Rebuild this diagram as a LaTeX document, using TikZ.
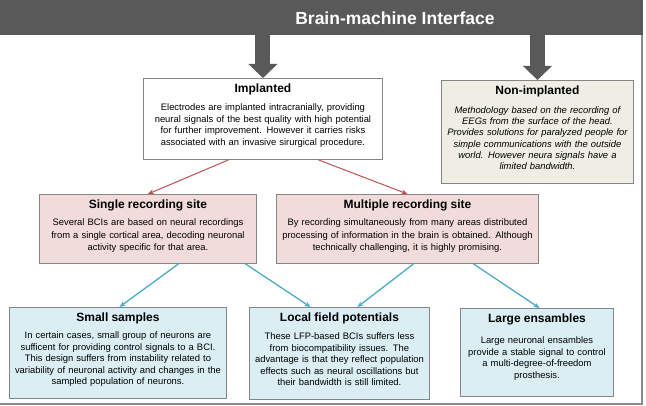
\documentclass[tikz,border=0pt]{standalone}
\usepackage{fontspec}
\setmainfont{Liberation Sans}
\usetikzlibrary{positioning}
\usetikzlibrary{arrows.meta}

\definecolor{barGray}{HTML}{595959}
\definecolor{boxGray}{HTML}{858585}
\definecolor{frameGray}{HTML}{8C8C8C}
\definecolor{pinkFill}{HTML}{F2DCDB}
\definecolor{blueFill}{HTML}{DBEEF4}
\definecolor{tanFill}{HTML}{EEEEE4}
\definecolor{redLine}{HTML}{C0504D}
\definecolor{blueLine}{HTML}{4BACC6}

\tikzset{
  box/.style={draw=boxGray, line width=0.9pt, anchor=north west, inner sep=0pt},
  boxtext/.style={anchor=base, align=center, inner sep=0pt, font=\fontsize{9.4}{11.5}\selectfont},
  blockarrow/.style={draw=barGray, line width=15pt, -{Triangle[width=29pt, length=14pt, line width=0pt]}},
  redarrow/.style={draw=redLine, line width=1pt, -{Stealth[length=6pt, width=5pt]}},
  bluearrow/.style={draw=blueLine, line width=1.3pt, -{Stealth[length=6pt, width=5pt]}}
}
\newcommand{\boxtitle}[1]{{\fontsize{12}{14}\selectfont\upshape\bfseries #1}}

\begin{document}
\begin{tikzpicture}[x=1pt, y=-1pt]
\useasboundingbox (0,0) rectangle (646,406);

%title bar
\node[anchor=north west, fill=barGray, inner sep=0pt, minimum width=643pt, minimum height=35pt] (bar) at (0,0) {};
\node[text=white, font=\fontsize{17.5}{20}\selectfont\bfseries] (title) at (395,18) {Brain-machine Interface};

%frame
\draw[frameGray, line width=2pt] (642,35) -- (642,404);
\draw[frameGray, line width=1.5pt] (0,404) -- (643,404);

%first level
\node[box, fill=white, minimum width=239pt, minimum height=81pt] (impl) at (143,78) {};
\node[boxtext, text width=235pt, font=\fontsize{9.4}{11.4}\selectfont] (impltext) at ([yshift=-15pt]impl.north)
  {\boxtitle{Implanted}\\[6.6pt]
   Electrodes are implanted intracranially, providing\\
   neural signals of the best quality with high potential\\
   for further improvement. However it carries risks\\
   associated with an invasive sirurgical procedure.};

\node[box, fill=tanFill, minimum width=192pt, minimum height=103pt] (nonimpl) at (441,80) {};
\node[boxtext, text width=188pt, font=\fontsize{9.4}{11.2}\selectfont\itshape] (nonimpltext) at ([yshift=-14.5pt]nonimpl.north)
  {\boxtitle{Non-implanted}\\[7.8pt]
   Methodology based on the recording of\\
   EEGs from the surface of the head.\\
   Provides solutions for paralyzed people for\\
   simple communications with the outside\\
   world. However neura signals have a\\
   limited bandwidth.};

%second level
\node[box, fill=pinkFill, minimum width=217pt, minimum height=69pt] (single) at (39,194) {};
\node[boxtext, text width=213pt, font=\fontsize{9.4}{12.5}\selectfont] (singletext) at ([yshift=-15pt]single.north)
  {\boxtitle{Single recording site}\\[4.5pt]
   Several BCIs are based on neural recordings\\
   from a single cortical area, decoding neuronal\\
   activity specific for that area.};

\node[box, fill=pinkFill, minimum width=262pt, minimum height=69pt] (multiple) at (276,194) {};
\node[boxtext, text width=258pt, font=\fontsize{9.4}{12.5}\selectfont] (multipletext) at ([yshift=-15pt]multiple.north)
  {\boxtitle{Multiple recording site}\\[4.5pt]
   By recording simultaneously from many areas distributed\\
   processing of information in the brain is obtained. Although\\
   technically challenging, it is highly promising.};

%third level
\node[box, fill=blueFill, minimum width=217pt, minimum height=91pt] (small) at (9,307) {};
\node[boxtext, text width=213pt] (smalltext) at ([yshift=-15pt]small.north)
  {\boxtitle{Small samples}\\[5.5pt]
   In certain cases, small group of neurons are\\
   sufficent for providing control signals to a BCI.\\
   This design suffers from instability related to\\
   variability of neuronal activity and changes in the\\
   sampled population of neurons.};

\node[box, fill=blueFill, minimum width=180pt, minimum height=92pt] (lfp) at (249,307) {};
\node[boxtext, text width=176pt] (lfptext) at ([yshift=-15pt]lfp.north)
  {\boxtitle{Local field potentials}\\[6.5pt]
   These LFP-based BCIs suffers less\\
   from biocompatibility issues. The\\
   advantage is that they reflect population\\
   effects such as neural oscillations but\\
   their bandwidth is still limited.};

\node[box, fill=blueFill, minimum width=153pt, minimum height=88pt] (large) at (460,308) {};
\node[boxtext, text width=149pt, font=\fontsize{9.4}{11.4}\selectfont] (largetext) at ([yshift=-15pt]large.north)
  {\boxtitle{Large ensambles}\\[9.5pt]
   Large neuronal ensambles\\
   provide a stable signal to control\\
   a multi-degree-of-freedom\\
   prosthesis.};

%block arrows
\draw[blockarrow] (impl.north |- bar.south) -- (impl.north);
\draw[blockarrow] (nonimpl.north |- bar.south) -- (nonimpl.north);

%red connectors
\draw[redarrow] ([xshift=-34.5pt]impl.south) -- (single.north);
\draw[redarrow] ([xshift=55.5pt]impl.south) -- (multiple.north);

%blue connectors
\draw[bluearrow] ([xshift=30.5pt]single.south) -- ([xshift=1.5pt]small.north);
\draw[bluearrow] ([xshift=97.5pt]single.south) -- ([xshift=-29pt]lfp.north);
\draw[bluearrow] ([xshift=6pt]multiple.south) -- ([xshift=18pt]lfp.north);
\draw[bluearrow] ([xshift=66pt]multiple.south) -- ([xshift=2.5pt]large.north);
\end{tikzpicture}
\end{document}
